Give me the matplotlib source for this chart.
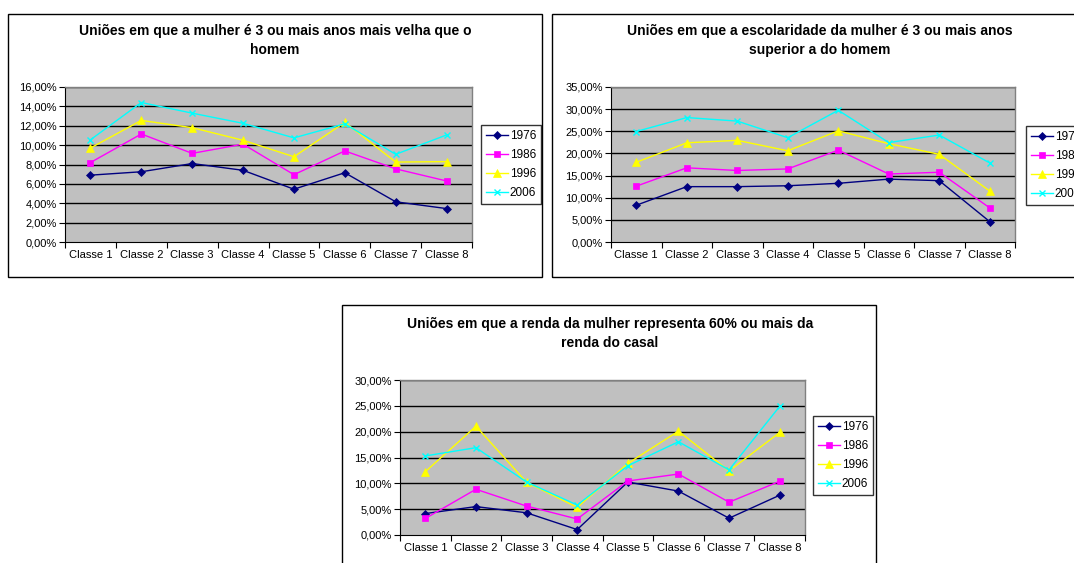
import matplotlib
matplotlib.use("Agg")
import matplotlib.pyplot as plt
from matplotlib.patches import Rectangle
from matplotlib.ticker import FuncFormatter, FixedLocator

plt.rcParams['font.family'] = ['Liberation Sans', 'DejaVu Sans']

classes = ["Classe 1", "Classe 2", "Classe 3", "Classe 4",
           "Classe 5", "Classe 6", "Classe 7", "Classe 8"]
years = ["1976", "1986", "1996", "2006"]

# uniões em que a mulher é 3 ou mais anos mais velha (%)
idade_1976 = [6.9, 7.25, 8.1, 7.4, 5.45, 7.15, 4.15, 3.45]
idade_1986 = [8.2, 11.15, 9.15, 10.1, 6.95, 9.4, 7.55, 6.3]
idade_1996 = [9.7, 12.55, 11.8, 10.5, 8.8, 12.35, 8.25, 8.3]
idade_2006 = [10.55, 14.4, 13.3, 12.25, 10.75, 12.2, 9.05, 11.05]

# escolaridade da mulher 3 ou mais anos superior (%)
escol_1976 = [8.3, 12.5, 12.5, 12.7, 13.25, 14.2, 13.85, 4.6]
escol_1986 = [12.6, 16.75, 16.15, 16.5, 20.75, 15.35, 15.75, 7.7]
escol_1996 = [18.0, 22.4, 22.95, 20.6, 25.1, 22.2, 19.8, 11.5]
escol_2006 = [24.95, 28.1, 27.3, 23.55, 29.75, 22.45, 24.15, 17.85]

# renda da mulher 60% ou mais da renda do casal (%)
renda_1976 = [4.15, 5.5, 4.3, 1.05, 10.25, 8.5, 3.25, 7.7]
renda_1986 = [3.2, 8.85, 5.6, 3.1, 10.45, 11.8, 6.35, 10.4]
renda_1996 = [12.25, 21.05, 10.2, 5.35, 13.85, 20.1, 12.4, 19.85]
renda_2006 = [15.3, 16.9, 10.25, 5.8, 13.4, 18.05, 12.6, 24.9]

titles = [
    "Uniões em que a mulher é 3 ou mais anos mais velha que o\nhomem",
    "Uniões em que a escolaridade da mulher é 3 ou mais anos\nsuperior a do homem",
    "Uniões em que a renda da mulher representa 60% ou mais da\nrenda do casal",
]

colors = ["#000080", "#FF00FF", "#FFFF00", "#00FFFF"]
markers = ["D", "s", "^", "x"]
msizes = [4, 5, 5.5, 4.5]

W, H = 1074, 563


def fig_rect(x1, y1, x2, y2):
    return [x1 / W, 1 - y2 / H, (x2 - x1) / W, (y2 - y1) / H]


def draw_chart(ax, series, ymax, ystep):
    xs = [i + 0.5 for i in range(len(classes))]
    ax.set_facecolor("#C0C0C0")
    for vals, yr, c, m, ms in zip(series, years, colors, markers, msizes):
        ax.plot(xs, vals, color=c, marker=m, markersize=ms, lw=1,
                markeredgewidth=1 if m == "x" else 0.5, label=yr, clip_on=False)
    ax.set_xlim(0, len(classes))
    ax.set_ylim(0, ymax)
    yt = [ystep * i for i in range(int(round(ymax / ystep)) + 1)]
    ax.set_yticks(yt)
    ax.yaxis.set_major_formatter(FuncFormatter(lambda v, p: f"{v:.2f}%".replace(".", ",")))
    for v in yt[1:]:
        ax.axhline(v, color="black", lw=1, zorder=1)
    ax.xaxis.set_major_locator(FixedLocator(range(len(classes) + 1)))
    ax.xaxis.set_major_formatter(FuncFormatter(lambda v, p: ""))
    ax.xaxis.set_minor_locator(FixedLocator(xs))
    ax.set_xticklabels(classes, minor=True)
    ax.tick_params(axis="x", which="minor", length=0, labelsize=8, pad=6)
    ax.tick_params(axis="x", which="major", length=4, width=0.8, direction="out")
    ax.tick_params(axis="y", length=4, width=0.8, direction="out", labelsize=8, pad=2)
    for s in ["top", "right"]:
        ax.spines[s].set_color("#808080")
        ax.spines[s].set_linewidth(1)
    for s in ["left", "bottom"]:
        ax.spines[s].set_color("black")
        ax.spines[s].set_linewidth(0.8)


fig = plt.figure(figsize=(W / 100, H / 100), dpi=100)
fig.patch.set_facecolor("white")

for (x1, y1, x2, y2) in [(8, 14, 542, 277), (552, 14, 1090, 277), (342, 305, 876, 575)]:
    fig.add_artist(Rectangle((x1 / W, 1 - y2 / H), (x2 - x1) / W, (y2 - y1) / H,
                             transform=fig.transFigure, fill=False,
                             ec="black", lw=1))

charts = [
    (fig_rect(65, 87, 472, 242), [idade_1976, idade_1986, idade_1996, idade_2006], 16, 2,
     (275, 40.5), (481, 164.5)),
    (fig_rect(611, 87, 1015, 242), [escol_1976, escol_1986, escol_1996, escol_2006], 35, 5,
     (820, 40.5), (1026, 165.5)),
    (fig_rect(400, 380, 805, 535), [renda_1976, renda_1986, renda_1996, renda_2006], 30, 5,
     (610, 333.5), (813, 455.5)),
]

for (rect, series, ymax, ystep, tpos, lpos), title in zip(charts, titles):
    ax = fig.add_axes(rect)
    draw_chart(ax, series, ymax, ystep)
    fig.text(tpos[0] / W, 1 - tpos[1] / H, title, ha="center", va="center",
             fontsize=10, fontweight="bold", linespacing=1.4)
    leg = fig.legend(*ax.get_legend_handles_labels(), loc="center left",
                     bbox_to_anchor=(lpos[0] / W, 1 - lpos[1] / H),
                     bbox_transform=fig.transFigure, fontsize=8.5, frameon=True,
                     fancybox=False, borderaxespad=0, handlelength=1.9,
                     handletextpad=0.15, labelspacing=0.6, borderpad=0.4)
    leg.get_frame().set_edgecolor("black")
    leg.get_frame().set_linewidth(1)

fig.savefig("out.png", dpi=100)
